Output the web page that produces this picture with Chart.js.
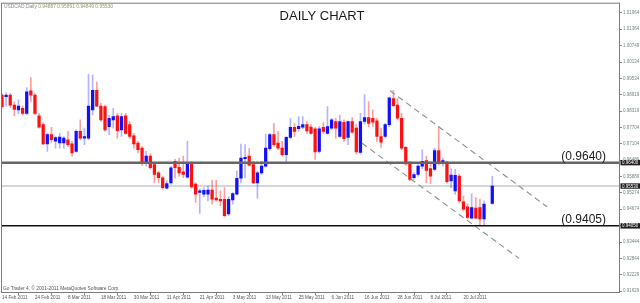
<!DOCTYPE html>
<html><head><meta charset="utf-8">
<script src="https://cdn.jsdelivr.net/npm/chart.js@4.4.0/dist/chart.umd.min.js"></script>
<style>html,body{margin:0;padding:0;background:#fff;overflow:hidden}canvas{display:block}</style>
</head><body>
<canvas id="c" width="640" height="303"></canvas>
<script>
// ---------- data ----------
const symbolLabel = 'USDCAD,Daily';
const titleText = 'DAILY CHART';
const footerText = 'Go Trader 4, \u00A9 2001-2011 MetaQuotes Software Corp.';

const opens = [0.9891,0.9885,0.9891,0.9854,0.9836,0.9842,0.9823,0.9907,0.9891,0.9814,
0.9781,0.9710,0.9744,0.9720,0.9713,0.9713,0.9725,0.9710,0.9682,0.9756,
0.9731,0.9731,0.9836,0.9909,0.9850,0.9848,0.9774,0.9799,0.9814,0.9762,
0.9814,0.9781,0.9740,0.9713,0.9694,0.9639,0.9664,0.9633,0.9602,0.9584,
0.9545,0.9565,0.9645,0.9623,0.9606,0.9586,0.9639,0.9560,0.9529,0.9523,
0.9523,0.9538,0.9508,0.9504,0.9504,0.9449,0.9501,0.9523,0.9582,0.9655,
0.9664,0.9633,0.9565,0.9602,0.9627,0.9692,0.9744,0.9713,0.9694,0.9670,
0.9734,0.9771,0.9766,0.9772,0.9781,0.9772,0.9766,0.9682,0.9771,0.9749,
0.9768,0.9793,0.9737,0.9790,0.9734,0.9793,0.9768,0.9678,0.9793,0.9807,
0.9805,0.9795,0.9737,0.9737,0.9781,0.9878,0.9854,0.9805,0.9697,0.9639,
0.9584,0.9596,0.9627,0.9648,0.9618,0.9615,0.9685,0.9639,0.9642,0.9572,
0.9535,0.9590,0.9494,0.9476,0.9434,0.9471,0.9473,0.9431,null,0.94887];
const highs = [0.9897,0.9899,0.9897,0.9866,0.9873,0.9850,0.9919,0.9956,0.9897,0.9823,
0.9789,0.9749,0.9771,0.9737,0.9749,0.9737,0.9756,0.9719,0.9762,0.9799,
0.9768,0.9968,0.9965,0.9940,0.9860,0.9854,0.9817,0.9842,0.9823,0.9823,
0.9823,0.9793,0.9749,0.9719,0.9700,0.9682,0.9674,0.9639,0.9609,0.9590,
0.9572,0.9627,0.9652,0.9657,0.9664,0.9719,0.9643,0.9565,0.9541,0.9547,
0.9553,0.9574,0.9574,0.9535,0.9547,0.9513,0.9529,0.9609,0.9709,0.9707,
0.9692,0.9645,0.9609,0.9645,0.9746,0.9749,0.9786,0.9756,0.9719,0.9737,
0.9805,0.9786,0.9811,0.9811,0.9793,0.9781,0.9771,0.9774,0.9789,0.9848,
0.9805,0.9805,0.9817,0.9799,0.9795,0.9807,0.9781,0.9823,0.9893,0.9866,
0.9836,0.9805,0.9768,0.9786,0.9885,0.9909,0.9878,0.9823,0.9700,0.9645,
0.9602,0.9633,0.9688,0.9664,0.9645,0.9694,0.9774,0.9657,0.9645,0.9618,
0.9615,0.9596,0.9516,0.9486,0.9525,0.9510,0.9504,0.9498,null,0.95891];
const lows = [0.9845,0.9850,0.9845,0.9814,0.9821,0.9817,0.9817,0.9866,0.9817,0.9768,
0.9707,0.9682,0.9715,0.9694,0.9694,0.9694,0.9700,0.9664,0.9678,0.9725,
0.9707,0.9725,0.9817,0.9848,0.9793,0.9756,0.9744,0.9768,0.9731,0.9737,
0.9744,0.9731,0.9694,0.9676,0.9630,0.9627,0.9617,0.9565,0.9565,0.9541,
0.9541,0.9560,0.9582,0.9590,0.9584,0.9582,0.9545,0.9492,0.9451,0.9513,
0.9498,0.9486,0.9498,0.9480,0.9439,0.9443,0.9486,0.9520,0.9565,0.9584,
0.9627,0.9562,0.9508,0.9596,0.9623,0.9685,0.9700,0.9688,0.9664,0.9639,
0.9729,0.9737,0.9756,0.9766,0.9749,0.9746,0.9652,0.9675,0.9748,0.9745,
0.9762,0.9731,0.9734,0.9719,0.9707,0.9749,0.9672,0.9672,0.9783,0.9774,
0.9774,0.9719,0.9697,0.9731,0.9774,0.9848,0.9799,0.9688,0.9631,0.9572,
0.9578,0.9590,0.9618,0.9565,0.9562,0.9609,0.9631,0.9627,0.9565,0.9547,
0.9523,0.9492,0.9461,0.9431,0.9431,0.9431,0.9406,0.9406,null,0.94849];
const closes = [0.9848,0.9891,0.9854,0.9838,0.9850,0.9823,0.9903,0.9891,0.9823,0.9772,
0.9710,0.9744,0.9725,0.9733,0.9735,0.9731,0.9707,0.9676,0.9756,0.9731,
0.9737,0.9850,0.9909,0.9850,0.9799,0.9762,0.9805,0.9811,0.9759,0.9811,
0.9749,0.9737,0.9710,0.9688,0.9639,0.9664,0.9621,0.9596,0.9584,0.9547,
0.9562,0.9621,0.9621,0.9602,0.9596,0.9639,0.9550,0.9523,0.9535,0.9537,
0.9538,0.9504,0.9501,0.9498,0.9443,0.9504,0.9525,0.9582,0.9657,0.9660,
0.9631,0.9565,0.9602,0.9627,0.9694,0.9744,0.9707,0.9694,0.9670,0.9734,
0.9771,0.9756,0.9775,0.9781,0.9758,0.9749,0.9680,0.9766,0.9756,0.9774,
0.9799,0.9768,0.9793,0.9729,0.9793,0.9753,0.9680,0.9793,0.9807,0.9786,
0.9790,0.9737,0.9716,0.9781,0.9881,0.9852,0.9805,0.9694,0.9635,0.9578,
0.9596,0.9627,0.9645,0.9611,0.9590,0.9685,0.9639,0.9648,0.9569,0.9594,
0.9593,0.9498,0.9467,0.9436,0.9473,0.9434,0.9431,0.9486,null,0.95530];

const dateLabels = ['14 Feb 2011','24 Feb 2011','8 Mar 2011','18 Mar 2011','30 Mar 2011',
  '11 Apr 2011','21 Apr 2011','3 May 2011','13 May 2011','25 May 2011','6 Jun 2011',
  '16 Jun 2011','28 Jun 2011','8 Jul 2011','20 Jul 2011'];
const barsPerDateLabel = 8;
const priceTicks = [1.01964,1.01364,1.00749,1.00134,0.99534,0.98919,0.98319,0.97704,0.97104,
  0.96489,0.95889,0.95274,0.94674,0.94059,0.93444,0.92844,0.92229,0.91629];
const levels = [0.9640, 0.9405];
const levelTexts = ['(0.9640)', '(0.9405)'];
const bidPrice = 0.95530;
const channelUpper = [{x:94.2, y:0.9907}, {x:132.3, y:0.9476}];
const channelLower = [{x:87.4, y:0.9712}, {x:125.5, y:0.9284}];

// ---------- build datasets ----------
const bullBody = [], bearBody = [], bullWick = [], bearWick = [];
opens.forEach((o, i) => {
  if (o == null) return;
  const bull = closes[i] >= o;
  (bull ? bullBody : bearBody).push({x: i, y: [o, closes[i]]});
  (bull ? bullWick : bearWick).push({x: i, y: [lows[i], highs[i]]});
});
const X_MIN = 0, X_MAX = 150;
const hLine = (v) => [{x: X_MIN, y: v}, {x: X_MAX, y: v}];
const last = opens.length - 1;

const overlay = {
  id: 'overlay',
  afterDraw(chart) {
    const {ctx, chartArea: a, scales: {y}} = chart;
    ctx.save();
    // frame
    ctx.strokeStyle = '#7c7c7c'; ctx.lineWidth = 1;
    ctx.strokeRect(a.left - 0.5, a.top - 0.5, a.right - a.left, a.bottom - a.top);
    // header
    ctx.textBaseline = 'alphabetic'; ctx.textAlign = 'left';
    ctx.font = '4.9px "Liberation Sans", Arial, sans-serif';
    ctx.fillStyle = '#8a8a8a';
    ctx.fillText(symbolLabel, 4, 8);
    const w = ctx.measureText(symbolLabel + ' ').width;
    ctx.fillStyle = '#8fa070';
    ctx.fillText([opens[last], highs[last], lows[last], closes[last]].map(v => v.toFixed(5)).join(' '), 4 + w, 8);
    // footer
    ctx.fillStyle = '#555';
    ctx.font = '4.8px "Liberation Sans", Arial, sans-serif';
    ctx.fillText(footerText, 3, 290);
    // title
    ctx.fillStyle = '#1a1a1a';
    ctx.textAlign = 'center';
    ctx.font = '13px "Liberation Sans", Arial, sans-serif';
    ctx.fillText(titleText, 322, 20);
    // level labels
    ctx.textAlign = 'right'; ctx.font = '12px "Liberation Sans", Arial, sans-serif';
    levels.forEach((v, k) => {
      ctx.fillText(levelTexts[k], 606, y.getPixelForValue(v) - 2.5);
    });
    // price boxes on the axis
    ctx.font = '4.5px "Liberation Sans", Arial, sans-serif';
    ctx.textAlign = 'left'; ctx.textBaseline = 'middle';
    [levels[0], bidPrice, levels[1]].forEach(v => {
      const py = y.getPixelForValue(v);
      ctx.fillStyle = '#1e1e1e';
      ctx.fillRect(a.right + 0.5, py - 2.7, 19.5, 5.4);
      ctx.fillStyle = '#fff';
      ctx.fillText(v.toFixed(5), a.right + 2, py + 0.3);
    });
    ctx.restore();
  }
};

new Chart(document.getElementById('c'), {
  type: 'bar',
  data: {
    datasets: [
      {type: 'line', data: hLine(levels[0]), borderColor: '#666', borderWidth: 2.5, pointRadius: 0, order: 0},
      {type: 'line', data: hLine(bidPrice), borderColor: '#d3d7da', borderWidth: 2, pointRadius: 0, order: 5},
      {type: 'line', data: hLine(levels[1]), borderColor: '#111', borderWidth: 1.5, pointRadius: 0, order: 0},
      {type: 'line', data: channelUpper, borderColor: '#8e8e8e', borderWidth: 1.1, borderDash: [6, 4], pointRadius: 0, order: 0},
      {type: 'line', data: channelLower, borderColor: '#8e8e8e', borderWidth: 1.1, borderDash: [6, 4], pointRadius: 0, order: 0},
      {data: bearWick, backgroundColor: 'rgba(255,40,40,0.45)', barThickness: 1, grouped: false, order: 3},
      {data: bullWick, backgroundColor: 'rgba(40,40,255,0.35)', barThickness: 1, grouped: false, order: 3},
      {data: bearBody, backgroundColor: '#ff1010', barThickness: 2.6, minBarLength: 1, grouped: false, order: 2},
      {data: bullBody, backgroundColor: '#1010ff', barThickness: 2.6, minBarLength: 1, grouped: false, order: 2}
    ]
  },
  options: {
    responsive: false, animation: false, devicePixelRatio: 1,
    layout: {padding: {left: 2, top: 1, right: 0, bottom: 0}},
    plugins: {legend: {display: false}, tooltip: {enabled: false}, title: {display: false}},
    scales: {
      x: {
        type: 'linear', min: X_MIN, max: X_MAX, offset: false,
        border: {display: false},
        grid: {drawOnChartArea: false, drawTicks: true, tickLength: 2, color: '#888'},
        afterBuildTicks: (s) => { s.ticks = dateLabels.map((_, k) => ({value: k * barsPerDateLabel})); },
        afterFit: (s) => { s.height = 10; },
        ticks: {
          autoSkip: false, maxRotation: 0, minRotation: 0, align: 'start', padding: 0,
          color: '#555', font: {size: 4.6, family: '"Liberation Sans", Arial, sans-serif'},
          callback: (v) => dateLabels[Math.round(v / barsPerDateLabel)]
        }
      },
      y: {
        type: 'linear', position: 'right', min: 0.91555, max: 1.02307,
        border: {display: false},
        grid: {drawOnChartArea: false, drawTicks: true, tickLength: 2, color: '#888'},
        afterBuildTicks: (s) => { s.ticks = priceTicks.map(v => ({value: v})); },
        afterFit: (s) => { s.width = 20; },
        ticks: {
          padding: 1, color: '#75867a', font: {size: 4.5, family: '"Liberation Sans", Arial, sans-serif'},
          callback: (v) => v.toFixed(5)
        }
      }
    }
  },
  plugins: [overlay]
});
</script>
</body></html>
